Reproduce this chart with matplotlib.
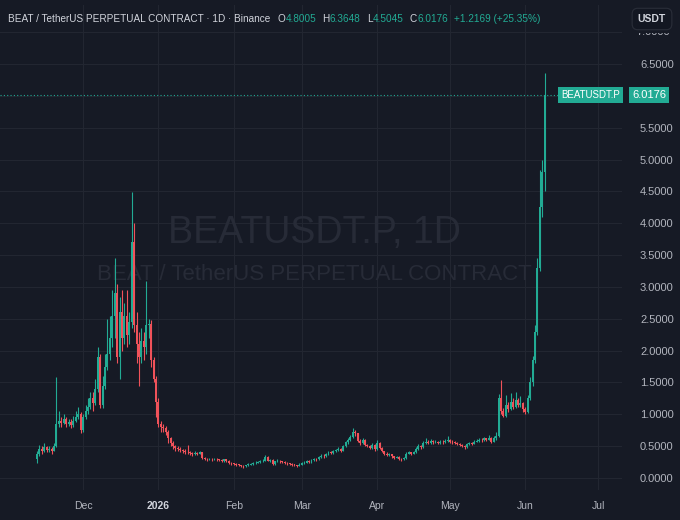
import pandas as pd
import matplotlib
matplotlib.use("Agg")
import matplotlib.pyplot as plt
import matplotlib.dates as mdates
from matplotlib.transforms import Bbox

# === Données journalières BEATUSDT.P ===
start_date = "2025-11-12"
end_date = "2026-06-09"
first_open = 0.30

closes = [
    # nov
    0.38, 0.45, 0.42, 0.48, 0.44, 0.46, 0.43, 0.50, 0.85, 0.90, 0.86, 0.92, 0.85, 0.88, 0.83, 0.90, 0.95, 1.00, 0.75,
    # dec
    0.95, 1.05, 1.12, 1.25, 1.18, 1.40, 1.90, 1.15, 1.45, 1.75, 1.95, 2.20, 2.55, 2.90, 1.90, 2.60, 2.20, 2.55, 2.25, 2.45,
    3.70, 2.40, 2.10, 1.90, 2.15, 2.05, 2.40, 2.42, 1.85, 1.55, 1.20,
    # jan
    0.85, 0.80, 0.78, 0.72, 0.62, 0.55, 0.50, 0.47, 0.45, 0.44, 0.42, 0.41, 0.40, 0.39, 0.38, 0.39, 0.38, 0.40, 0.31, 0.30,
    0.29, 0.30, 0.29, 0.30, 0.29, 0.28, 0.27, 0.29, 0.27, 0.24, 0.23,
    # feb
    0.22, 0.21, 0.20, 0.19, 0.18, 0.20, 0.21, 0.22, 0.23, 0.24, 0.25, 0.26, 0.27, 0.33, 0.27, 0.28, 0.22, 0.26, 0.27, 0.26,
    0.25, 0.24, 0.23, 0.22, 0.21, 0.20, 0.19, 0.21,
    # mar
    0.23, 0.24, 0.26, 0.25, 0.28, 0.30, 0.29, 0.33, 0.35, 0.34, 0.37, 0.40, 0.39, 0.42, 0.44, 0.46, 0.43, 0.50, 0.56, 0.60,
    0.65, 0.72, 0.70, 0.58, 0.55, 0.60, 0.52, 0.50, 0.47, 0.52, 0.45,
    # apr
    0.55, 0.47, 0.42, 0.38, 0.36, 0.37, 0.34, 0.32, 0.33, 0.30, 0.29, 0.31, 0.38, 0.40, 0.38, 0.40, 0.45, 0.50, 0.48, 0.55,
    0.57, 0.55, 0.58, 0.56, 0.57, 0.55, 0.57, 0.56, 0.58, 0.60,
    # may
    0.57, 0.56, 0.55, 0.53, 0.52, 0.50, 0.48, 0.53, 0.55, 0.54, 0.57, 0.58, 0.60, 0.59, 0.62, 0.60, 0.63, 0.57, 0.62, 0.66,
    1.25, 1.05, 0.97, 1.15, 1.08, 1.20, 1.12, 1.22, 1.15, 1.17, 1.08,
    # jun
    1.03, 1.25, 1.50, 1.85, 2.30, 3.30, 4.25, 4.8005, 6.0176,
]

highs = [
    0.42, 0.52, 0.50, 0.55, 0.50, 0.50, 0.48, 0.55, 1.58, 1.05, 0.95, 1.00, 0.95, 0.93, 0.92, 0.97, 1.05, 1.12, 1.04,
    1.00, 1.15, 1.25, 1.35, 1.35, 1.55, 2.05, 1.95, 1.60, 1.95, 2.50, 2.55, 2.95, 3.45, 3.05, 2.85, 2.95, 2.75, 2.95, 2.60,
    4.49, 4.00, 2.60, 2.30, 2.35, 2.30, 3.10, 2.50, 2.48, 1.90, 1.60,
    1.25, 0.90, 0.85, 0.82, 0.75, 0.65, 0.58, 0.52, 0.50, 0.48, 0.46, 0.45, 0.52, 0.42, 0.41, 0.42, 0.40, 0.42, 0.41, 0.33,
    0.31, 0.32, 0.31, 0.32, 0.31, 0.30, 0.29, 0.30, 0.29, 0.28, 0.25,
    0.24, 0.23, 0.22, 0.21, 0.20, 0.21, 0.23, 0.24, 0.25, 0.26, 0.27, 0.28, 0.29, 0.36, 0.34, 0.30, 0.29, 0.27, 0.29, 0.28,
    0.27, 0.26, 0.25, 0.24, 0.23, 0.22, 0.21, 0.23,
    0.25, 0.26, 0.28, 0.28, 0.30, 0.32, 0.32, 0.35, 0.37, 0.37, 0.39, 0.42, 0.42, 0.44, 0.46, 0.48, 0.47, 0.52, 0.58, 0.63,
    0.68, 0.78, 0.76, 0.71, 0.61, 0.63, 0.61, 0.54, 0.52, 0.55, 0.53,
    0.60, 0.56, 0.48, 0.43, 0.40, 0.39, 0.38, 0.35, 0.35, 0.34, 0.32, 0.33, 0.40, 0.43, 0.41, 0.42, 0.48, 0.53, 0.52, 0.58,
    0.62, 0.60, 0.61, 0.60, 0.60, 0.58, 0.59, 0.59, 0.61, 0.66,
    0.61, 0.59, 0.58, 0.56, 0.55, 0.53, 0.51, 0.55, 0.57, 0.57, 0.59, 0.61, 0.62, 0.62, 0.64, 0.63, 0.68, 0.64, 0.66, 0.72,
    1.32, 1.54, 1.10, 1.30, 1.20, 1.33, 1.25, 1.35, 1.25, 1.28, 1.20,
    1.12, 1.30, 1.58, 1.92, 2.40, 3.45, 4.83, 5.00, 6.3648,
]

lows = [
    0.24, 0.34, 0.38, 0.40, 0.41, 0.40, 0.38, 0.42, 0.48, 0.80, 0.80, 0.84, 0.80, 0.82, 0.78, 0.80, 0.88, 0.93, 0.70,
    0.72, 0.92, 1.00, 1.08, 1.05, 1.15, 1.35, 1.10, 1.10, 1.40, 1.70, 1.85, 2.05, 2.20, 1.80, 1.55, 2.00, 2.10, 2.05, 2.10,
    2.35, 2.30, 1.80, 1.45, 1.80, 1.85, 1.95, 2.20, 1.75, 1.50, 0.95,
    0.80, 0.72, 0.72, 0.68, 0.55, 0.50, 0.46, 0.43, 0.42, 0.41, 0.39, 0.38, 0.37, 0.36, 0.35, 0.36, 0.36, 0.37, 0.29, 0.28,
    0.27, 0.28, 0.27, 0.28, 0.27, 0.26, 0.25, 0.25, 0.25, 0.22, 0.21,
    0.20, 0.19, 0.18, 0.17, 0.16, 0.17, 0.19, 0.20, 0.21, 0.22, 0.23, 0.24, 0.25, 0.26, 0.26, 0.25, 0.21, 0.21, 0.25, 0.24,
    0.23, 0.22, 0.21, 0.20, 0.19, 0.18, 0.17, 0.18,
    0.20, 0.22, 0.23, 0.23, 0.24, 0.27, 0.27, 0.28, 0.32, 0.32, 0.33, 0.36, 0.37, 0.38, 0.41, 0.43, 0.41, 0.42, 0.49, 0.54,
    0.58, 0.63, 0.66, 0.56, 0.52, 0.53, 0.50, 0.48, 0.45, 0.46, 0.43,
    0.44, 0.45, 0.40, 0.36, 0.34, 0.35, 0.32, 0.30, 0.31, 0.28, 0.27, 0.28, 0.30, 0.37, 0.36, 0.37, 0.39, 0.44, 0.46, 0.47,
    0.53, 0.53, 0.54, 0.54, 0.55, 0.53, 0.54, 0.54, 0.55, 0.57,
    0.55, 0.54, 0.53, 0.51, 0.50, 0.48, 0.46, 0.47, 0.52, 0.52, 0.53, 0.56, 0.57, 0.57, 0.58, 0.58, 0.59, 0.55, 0.56, 0.60,
    0.64, 1.00, 0.95, 0.96, 1.04, 1.06, 1.08, 1.10, 1.12, 1.12, 1.03,
    1.00, 1.02, 1.22, 1.45, 1.80, 2.25, 3.25, 4.10, 4.5045,
]

month_ticks = ["2025-12-01", "2026-01-01", "2026-02-01", "2026-03-01", "2026-04-01",
               "2026-05-01", "2026-06-01", "2026-07-01"]
month_labels = ["Dec", "2026", "Feb", "Mar", "Apr", "May", "Jun", "Jul"]
price_ticks = [0.0, 0.5, 1.0, 1.5, 2.0, 2.5, 3.0, 3.5, 4.0, 4.5, 5.0, 5.5, 6.0, 6.5, 7.0]

symbol = "BEATUSDT.P"
header_title = "BEAT / TetherUS PERPETUAL CONTRACT · 1D · Binance"
ohlc_legend = [("O", "4.8005"), ("H", "6.3648"), ("L", "4.5045"), ("C", "6.0176")]
last_change = "+1.2169 (+25.35%)"

# === Couleurs ===
BG = "#161a25"
GRID = "#222631"
TXT = "#b2b5be"
UP = "#22ab94"
DOWN = "#f0525a"
WATER = "#272b37"
FONT = "Liberation Sans"

df = pd.DataFrame({"close": closes, "high": highs, "low": lows},
                  index=pd.date_range(start_date, end_date, freq="D"))
df["open"] = df["close"].shift(1)
df.loc[df.index[0], "open"] = first_open
x = mdates.date2num(df.index.to_pydatetime())
up = df["close"] >= df["open"]
colors = [UP if u else DOWN for u in up]

fig = plt.figure(figsize=(6.8, 5.2), dpi=100, facecolor=BG)
ax = fig.add_axes([0.0, 30 / 520, 622 / 680, 485 / 520], facecolor=BG)

# mèches puis corps
ax.vlines(x, df["low"], df["high"], colors=colors, linewidth=0.8, zorder=3)
body_bottom = df[["open", "close"]].min(axis=1)
body_height = (df["close"] - df["open"]).abs().clip(lower=0.012)
ax.bar(x, body_height, bottom=body_bottom, width=0.8, color=colors, linewidth=0, zorder=4)

dec1 = mdates.date2num(pd.Timestamp("2025-12-01"))
ax.set_xlim(dec1 - 34.2, dec1 + 221.8)
ax.set_ylim(-0.19, 7.43)

for s in ax.spines.values():
    s.set_visible(False)

# échelle de prix (6.0000 caché par l'étiquette du dernier prix, 7.0000 coupé par l'en-tête)
last = closes[-1]
ax.yaxis.tick_right()
ax.set_yticks(price_ticks)
ax.set_yticklabels([f"{v:.4f}" if v not in (6.0, 7.0) else "" for v in price_ticks])
ax.tick_params(axis="y", length=0, pad=13, labelsize=8, labelcolor=TXT)
for lab in ax.get_yticklabels():
    lab.set_family(FONT)

top_lab = fig.text(636 / 680, 1 - 32 / 520, "7.0000", ha="left", va="center", fontsize=8,
                   color=TXT, family=FONT)
top_lab.set_clip_box(Bbox.from_extents(600, 0, 680, 520 - 33))
top_lab.set_clip_on(True)

month_x = mdates.date2num(pd.to_datetime(month_ticks).to_pydatetime())
ax.set_xticks(month_x)
ax.set_xticklabels(month_labels)
ax.tick_params(axis="x", length=0, pad=8, labelsize=7.5, labelcolor=TXT)
for lab in ax.get_xticklabels():
    lab.set_family(FONT)
    if lab.get_text() == "2026":
        lab.set_color("#d1d4dc")
        lab.set_fontweight("bold")

ax.grid(True, color=GRID, linewidth=0.8, zorder=0)
ax.set_axisbelow(True)

# filigrane
ax.text(0.505, 0.53, "BEATUSDT.P, 1D", transform=ax.transAxes, ha="center", va="center",
        fontsize=27, color=WATER, family=FONT, zorder=1)
ax.text(0.505, 0.445, "BEAT / TetherUS PERPETUAL CONTRACT", transform=ax.transAxes, ha="center",
        va="center", fontsize=16, color=WATER, family=FONT, zorder=1)

# dernier prix
ax.axhline(last, color=UP, linestyle=(0, (1, 2)), linewidth=0.8, zorder=2)
ax.text(0.997, last, symbol, transform=ax.get_yaxis_transform(), ha="right", va="center",
        fontsize=7, color="white", family=FONT, zorder=6,
        bbox=dict(boxstyle="square,pad=0.3", fc=UP, ec="none"))
fig.text(649 / 680, 1 - 95 / 520, f"{last:.4f}", ha="center", va="center", fontsize=8,
         color="white", family=FONT,
         bbox=dict(boxstyle="square,pad=0.3", fc=UP, ec="none"))

# en-tête (légende TradingView), taille ajustée à la largeur du titre (~262 px)
renderer = fig.canvas.get_renderer()
hy = 1 - 19 / 520
probe = fig.text(0, 0, header_title, fontsize=10, family=FONT)
hsize = 10 * 262 / probe.get_window_extent(renderer=renderer).width
probe.remove()


def put(xpos, s, color, gap=0.0):
    t = fig.text(xpos, hy, s, ha="left", va="center", fontsize=hsize, color=color, family=FONT)
    bb = t.get_window_extent(renderer=renderer)
    return xpos + (bb.width + gap) / fig.bbox.width


hx = 8 / 680
hx = put(hx, header_title, "#d1d4dc", gap=7)
for letter, val in ohlc_legend:
    hx = put(hx, letter, "#d1d4dc", gap=0.5)
    hx = put(hx, val, UP, gap=6)
put(hx, last_change, UP)

fig.text(652 / 680, hy, "USDT", ha="center", va="center", fontsize=7.5, color="#d1d4dc",
         family=FONT, fontweight="bold",
         bbox=dict(boxstyle="round,pad=0.55", fc="#131722", ec="#2a2e39", lw=0.8))

fig.savefig("out.png", dpi=100, facecolor=BG)
plt.close(fig)
